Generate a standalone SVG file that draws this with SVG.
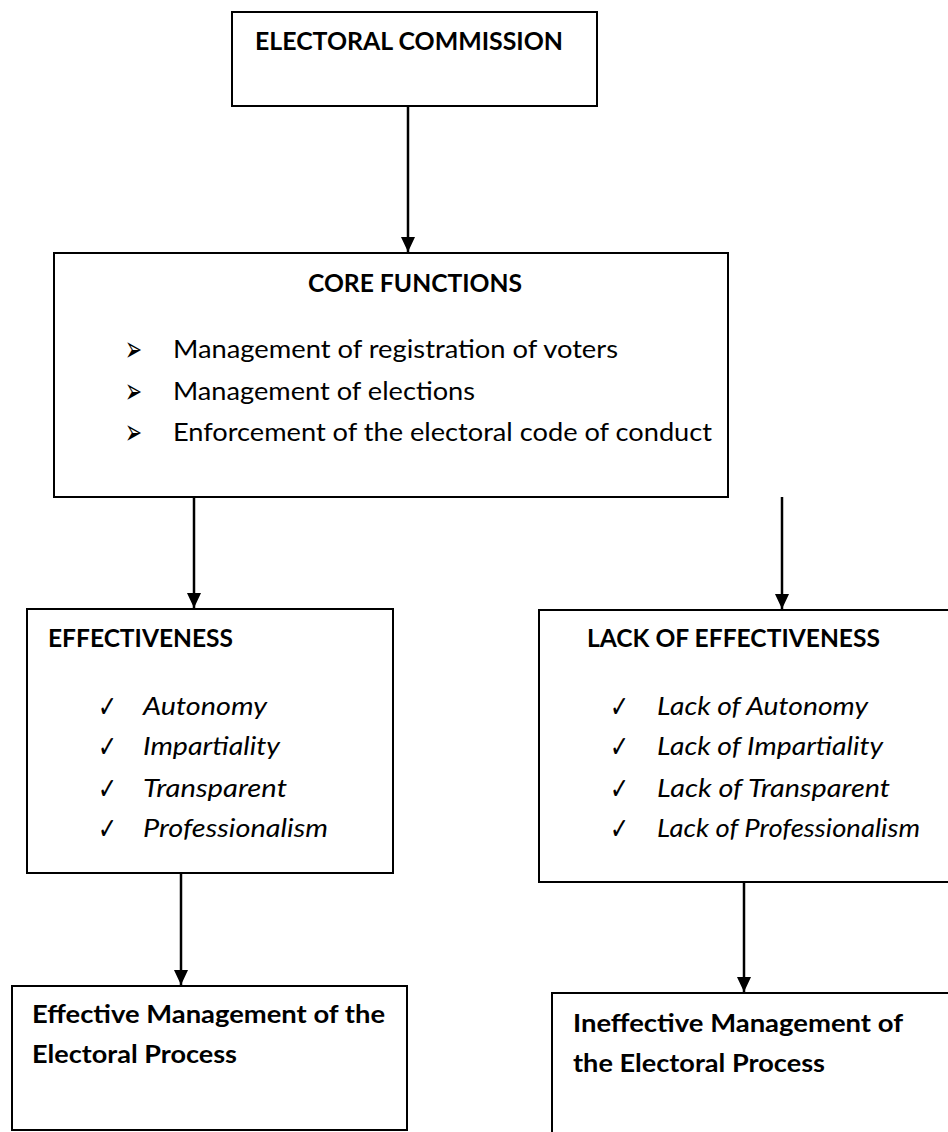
<svg xmlns="http://www.w3.org/2000/svg" width="948" height="1132" viewBox="0 0 948 1132">
<style>
.box{fill:#fff;stroke:#000;stroke-width:2}
.t{font-family:Lato,"Liberation Sans",sans-serif;font-size:25px;fill:#000}
.b{font-weight:bold}
.i{font-style:italic}
.arr{font-family:"DejaVu Sans",sans-serif;font-size:35px;fill:#000}
.chk{font-family:"DejaVu Sans",sans-serif;font-size:30px;fill:#000}
.c{stroke:#000;stroke-width:2.5;fill:none}
</style>
<defs>
<marker id="ah" markerUnits="userSpaceOnUse" markerWidth="16" markerHeight="14" refX="15" refY="7" orient="auto" viewBox="0 0 16 14">
<path d="M0,0 L15,7 L0,14 Z" fill="#000"/>
</marker>
</defs>
<rect width="948" height="1132" fill="#fff"/>
<g id="connectors">
<path class="c" d="M408,106 V252" marker-end="url(#ah)"/>
<path class="c" d="M194,497 V608" marker-end="url(#ah)"/>
<path class="c" d="M782,497 V609" marker-end="url(#ah)"/>
<path class="c" d="M181,873 V985" marker-end="url(#ah)"/>
<path class="c" d="M744,882 V992" marker-end="url(#ah)"/>
</g>
<g id="electoral-commission">
<rect class="box" x="232" y="12" width="365" height="94"/>
<text class="t b" x="255" y="50" textLength="308" lengthAdjust="spacingAndGlyphs">ELECTORAL COMMISSION</text>
</g>
<g id="core-functions">
<rect class="box" x="54" y="253" width="674" height="244"/>
<text class="t b" x="308" y="292" textLength="214" lengthAdjust="spacingAndGlyphs">CORE FUNCTIONS</text>
<text class="arr" x="125" y="361" textLength="17" lengthAdjust="spacingAndGlyphs">➢</text>
<text class="arr" x="125" y="402.5" textLength="17" lengthAdjust="spacingAndGlyphs">➢</text>
<text class="arr" x="125" y="444" textLength="17" lengthAdjust="spacingAndGlyphs">➢</text>
<text class="t" x="173" y="358" textLength="445" lengthAdjust="spacingAndGlyphs">Management of registration of voters</text>
<text class="t" x="173" y="399.5" textLength="302" lengthAdjust="spacingAndGlyphs">Management of elections</text>
<text class="t" x="173" y="441" textLength="539" lengthAdjust="spacingAndGlyphs">Enforcement of the electoral code of conduct</text>
</g>
<g id="effectiveness">
<rect class="box" x="27" y="609" width="366" height="264"/>
<text class="t b" x="48" y="647" textLength="185" lengthAdjust="spacingAndGlyphs">EFFECTIVENESS</text>
<text class="chk" x="98" y="717" textLength="19" lengthAdjust="spacingAndGlyphs">✓</text>
<text class="chk" x="98" y="757" textLength="19" lengthAdjust="spacingAndGlyphs">✓</text>
<text class="chk" x="98" y="799" textLength="19" lengthAdjust="spacingAndGlyphs">✓</text>
<text class="chk" x="98" y="839" textLength="19" lengthAdjust="spacingAndGlyphs">✓</text>
<text class="t i" x="143" y="715" textLength="124" lengthAdjust="spacingAndGlyphs">Autonomy</text>
<text class="t i" x="143" y="755" textLength="137" lengthAdjust="spacingAndGlyphs">Impartiality</text>
<text class="t i" x="143" y="797" textLength="144" lengthAdjust="spacingAndGlyphs">Transparent</text>
<text class="t i" x="143" y="837" textLength="185" lengthAdjust="spacingAndGlyphs">Professionalism</text>
</g>
<g id="lack-of-effectiveness">
<rect class="box" x="539" y="610" width="420" height="272"/>
<text class="t b" x="587" y="647" textLength="293" lengthAdjust="spacingAndGlyphs">LACK OF EFFECTIVENESS</text>
<text class="chk" x="610" y="717" textLength="19" lengthAdjust="spacingAndGlyphs">✓</text>
<text class="chk" x="610" y="757" textLength="19" lengthAdjust="spacingAndGlyphs">✓</text>
<text class="chk" x="610" y="799" textLength="19" lengthAdjust="spacingAndGlyphs">✓</text>
<text class="chk" x="610" y="839" textLength="19" lengthAdjust="spacingAndGlyphs">✓</text>
<text class="t i" x="657" y="715" textLength="211" lengthAdjust="spacingAndGlyphs">Lack of Autonomy</text>
<text class="t i" x="657" y="755" textLength="226" lengthAdjust="spacingAndGlyphs">Lack of Impartiality</text>
<text class="t i" x="657" y="797" textLength="233" lengthAdjust="spacingAndGlyphs">Lack of Transparent</text>
<text class="t i" x="657" y="837" textLength="263" lengthAdjust="spacingAndGlyphs">Lack of Professionalism</text>
</g>
<g id="effective-management">
<rect class="box" x="12" y="986" width="395" height="144"/>
<text class="t b" x="32" y="1023" textLength="353" lengthAdjust="spacingAndGlyphs">Effective Management of the</text>
<text class="t b" x="32" y="1063" textLength="205" lengthAdjust="spacingAndGlyphs">Electoral Process</text>
</g>
<g id="ineffective-management">
<rect class="box" x="552" y="993" width="410" height="160"/>
<text class="t b" x="573" y="1032" textLength="330" lengthAdjust="spacingAndGlyphs">Ineffective Management of</text>
<text class="t b" x="573" y="1072" textLength="252" lengthAdjust="spacingAndGlyphs">the Electoral Process</text>
</g>
</svg>
